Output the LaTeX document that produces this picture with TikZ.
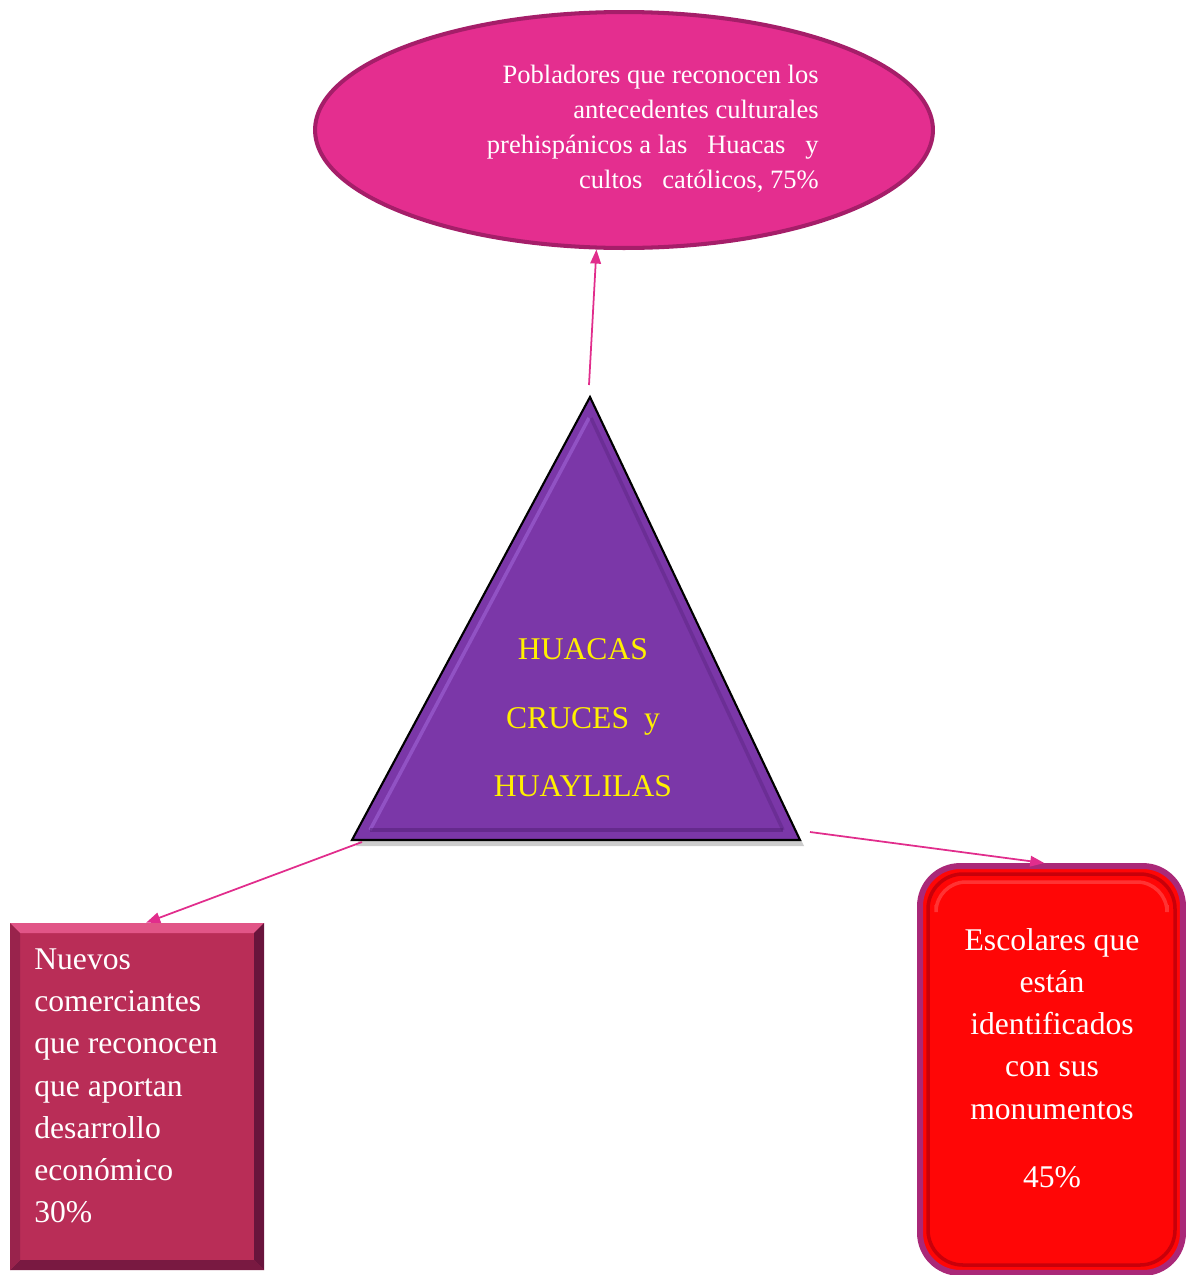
\documentclass[tikz,border=0pt]{standalone}
\usepackage{fontspec}
\setmainfont{Liberation Serif}
\usetikzlibrary{arrows.meta,shapes.geometric}
\definecolor{pobfill}{RGB}{228,46,143}
\definecolor{pobline}{RGB}{165,30,105}
\definecolor{trifill}{RGB}{123,55,168}
\definecolor{trilight}{RGB}{160,100,215}
\definecolor{tridark}{RGB}{80,30,115}
\definecolor{comfill}{RGB}{185,45,87}
\definecolor{comlight}{RGB}{225,85,135}
\definecolor{comdark}{RGB}{105,20,60}
\definecolor{escfill}{RGB}{255,6,6}
\definecolor{escline}{RGB}{170,40,120}
\definecolor{escdark}{RGB}{200,0,10}
\definecolor{arrowpink}{RGB}{225,45,140}
\definecolor{textyellow}{RGB}{255,240,0}

\begin{document}
\begin{tikzpicture}[x=0.02cm,y=-0.02cm]
      \tikzstyle{link}=[draw=arrowpink,line width=1pt,-{Triangle[length=8pt,width=6pt]}]
      \tikzstyle{pob shape}=[ellipse,fill=pobfill,draw=pobline,line width=2.3pt,
          minimum width=12.36cm,minimum height=4.72cm]
      \tikzstyle{box text}=[text=white,inner sep=0pt,font=\fontsize{18}{24}\selectfont]

      \useasboundingbox (0,0) rectangle (1187,1275);

      % Draw the ellipse at the top
      \node[pob shape] (pob) at (624,130) {};
      \node[text=white,inner sep=0pt,align=right,anchor=east,
          font=\fontsize{15.1}{19.85}\selectfont] (pobtext) at (819,129)
          {Pobladores que reconocen los\\
           antecedentes culturales\\
           prehispánicos a las\hspace{0.4cm}Huacas\hspace{0.4cm}y\\
           cultos\hspace{0.4cm}católicos, 75\%};

      % Draw the triangle in the middle
      \coordinate (apex) at (590,397);
      \coordinate (bl) at (352,840);
      \coordinate (br) at (800,840);
      \fill[black!20] (592,403) -- (356,846) -- (804,846) -- cycle;
      \filldraw[fill=trifill,draw=black,line width=1.2pt] (apex) -- (bl) -- (br) -- cycle;
      \draw[trilight,line width=2pt,opacity=0.6] (589,418) -- (370,830);
      \draw[tridark,line width=2.5pt,opacity=0.5] (370,830) -- (783,830);
      \draw[tridark,line width=2pt,opacity=0.35] (591,418) -- (783,830);
      \node[text=textyellow,align=center,inner sep=0pt,
          font=\fontsize{18}{39}\selectfont] (tri) at (583,718)
          {HUACAS\\ CRUCES\hspace{0.3cm}y\\ HUAYLILAS};

      % Draw the box on the left
      \node[fill=comfill,minimum width=5.08cm,minimum height=6.94cm,inner sep=0pt]
          (com) at (137,1096.5) {};
      \fill[comlight] (10,923) -- (264,923) -- (254,933) -- (20,933) -- cycle;
      \fill[comdark] (264,923) -- (264,1270) -- (254,1260) -- (254,933) -- cycle;
      \fill[comdark!80!comfill] (10,1270) -- (264,1270) -- (254,1260) -- (20,1260) -- cycle;
      \fill[comdark!40!comfill] (10,923) -- (20,933) -- (20,1260) -- (10,1270) -- cycle;
      \node[box text,align=left,anchor=west] (comtext) at (34,1086)
          {Nuevos\\ comerciantes\\ que reconocen\\ que aportan\\ desarrollo\\
           económico\\ 30\%};

      % Draw the box on the right
      \node[fill=escfill,draw=escline,line width=3.4pt,rounded corners=0.8cm,
          minimum width=5.26cm,minimum height=8.14cm,inner sep=0pt]
          (esc) at (1051.5,1069.5) {};
      \draw[escdark,line width=2pt,rounded corners=0.7cm]
          (928,874) rectangle (1175,1265);
      \draw[white!30!escfill,line width=2pt,rounded corners=0.6cm,opacity=0.6]
          (936,905) -- (936,882) -- (1167,882) -- (1167,905);
      \node[box text,align=center] (esctext) at (1052,1058)
          {Escolares que\\ están\\ identificados\\ con sus\\ monumentos\\[0.52cm] 45\%};

      % Connect the triangle with the three groups
      \coordinate (tri top) at (589,385);
      \coordinate (tri left) at (362,842);
      \coordinate (tri right) at (810,832);
      \foreach \source / \dest in {tri top/pob.257, tri left/com.87, tri right/esc.92}
          \draw[link] (\source) -- (\dest);
\end{tikzpicture}
\end{document}
